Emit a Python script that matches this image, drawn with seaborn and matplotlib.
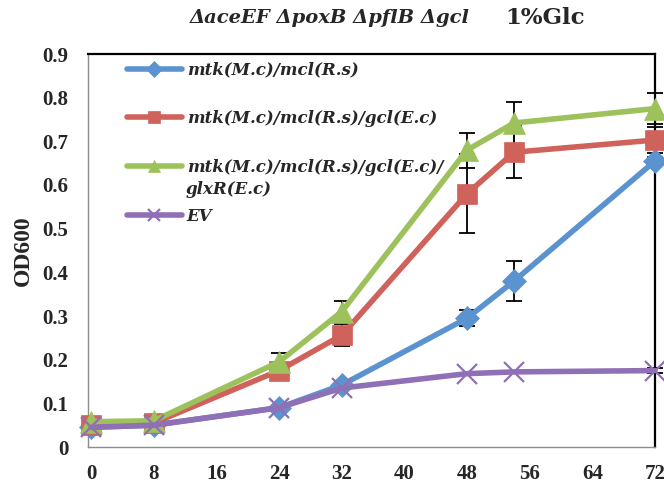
import matplotlib
matplotlib.use('Agg')
import matplotlib.pyplot as plt
import seaborn as sns
import pandas as pd

sns.set_style("white")

# Growth data (OD600 over time, hours)
hours = [0, 8, 24, 32, 48, 54, 72]
labels = ['mtk(M.c)/mcl(R.s)',
          'mtk(M.c)/mcl(R.s)/gcl(E.c)',
          'mtk(M.c)/mcl(R.s)/gcl(E.c)/',
          'EV']
label_cont = 'glxR(E.c)'
od_mtk = [0.045, 0.050, 0.090, 0.142, 0.295, 0.380, 0.655]
od_gcl = [0.050, 0.055, 0.175, 0.256, 0.580, 0.675, 0.703]
od_glxr = [0.058, 0.060, 0.195, 0.310, 0.680, 0.742, 0.775]
od_ev = [0.045, 0.050, 0.090, 0.135, 0.168, 0.172, 0.175]
err_mtk = [0.0, 0.0, 0.005, 0.005, 0.018, 0.045, 0.010]
err_gcl = [0.0, 0.0, 0.010, 0.025, 0.090, 0.060, 0.030]
err_glxr = [0.0, 0.0, 0.020, 0.025, 0.040, 0.047, 0.035]
err_ev = [0.0, 0.0, 0.0, 0.0, 0.0, 0.0, 0.005]

series = [od_mtk, od_gcl, od_glxr, od_ev]
errors = [err_mtk, err_gcl, err_glxr, err_ev]
colors = ['#5B93D0', '#D0625C', '#9DC15B', '#8F6FB5']
markers = ['D', 's', '^', 'x']
msizes = [12, 15, 16, 15]

serif = ['DejaVu Serif']
tick_font = ['Liberation Serif', 'DejaVu Serif']
leg_size = 12

fig = plt.figure(figsize=(6.64, 4.86), dpi=100)
ax = fig.add_axes([88 / 664, 39 / 486, 567 / 664, 393 / 486])

for lab, y, err, c, m, ms in zip(labels, series, errors, colors, markers, msizes):
    ax.errorbar(hours, y, yerr=err, fmt='none', ecolor='black', elinewidth=1.3,
                capsize=6, capthick=1.3, zorder=2, clip_on=False)
    df = pd.DataFrame({'hours': hours, 'od': y})
    sns.lineplot(data=df, x='hours', y='od', ax=ax, color=c, linewidth=4,
                 marker=m, markersize=ms, markeredgecolor=c,
                 markeredgewidth=1.6 if m == 'x' else 0.5,
                 label=lab, zorder=3, clip_on=False)

ax.set_xlim(-0.4, 72)
ax.set_ylim(0, 0.9)
ax.set_xticks(range(0, 73, 8))
ax.set_yticks([i / 10 for i in range(10)])
ax.set_yticklabels(['0'] + [f'{i / 10:.1f}' for i in range(1, 10)])
ax.tick_params(length=0)
ax.tick_params(axis='y', pad=14)
ax.tick_params(axis='x', pad=12.5)
for t in ax.get_xticklabels() + ax.get_yticklabels():
    t.set_fontfamily(tick_font)
    t.set_fontweight('bold')
    t.set_fontsize(15)

ax.set_xlabel('')
ax.set_ylabel('OD600', fontsize=17, fontweight='bold', family=tick_font, labelpad=6)

for side in ['left', 'bottom']:
    ax.spines[side].set_color('#8c8c8c')
    ax.spines[side].set_linewidth(1.0)
for side in ['top', 'right']:
    ax.spines[side].set_color('black')
    ax.spines[side].set_linewidth(1.6)

leg = ax.legend(loc='upper left', bbox_to_anchor=(120 / 664, 431 / 486),
                bbox_transform=fig.transFigure, frameon=False,
                handlelength=3.3, handletextpad=0.3, labelspacing=1.9,
                borderaxespad=0,
                prop={'family': serif, 'weight': 'bold', 'style': 'italic', 'size': leg_size})
for h in leg.legend_handles:
    h.set_markersize(8)

# second line of the third legend label
fig.text(186 / 664, (486 - 190) / 486, label_cont, ha='left', va='center',
         family=serif, fontweight='bold', fontstyle='italic', fontsize=leg_size)

fig.text(470 / 664, 468 / 486, 'ΔaceEF ΔpoxB ΔpflB Δgcl', ha='right', va='center',
         family=serif, fontweight='bold', fontstyle='italic', fontsize=14)
fig.text(505 / 664, 468 / 486, '1%Glc', ha='left', va='center',
         family=serif, fontweight='bold', fontsize=16.5)

fig.savefig('out.png', dpi=100)
